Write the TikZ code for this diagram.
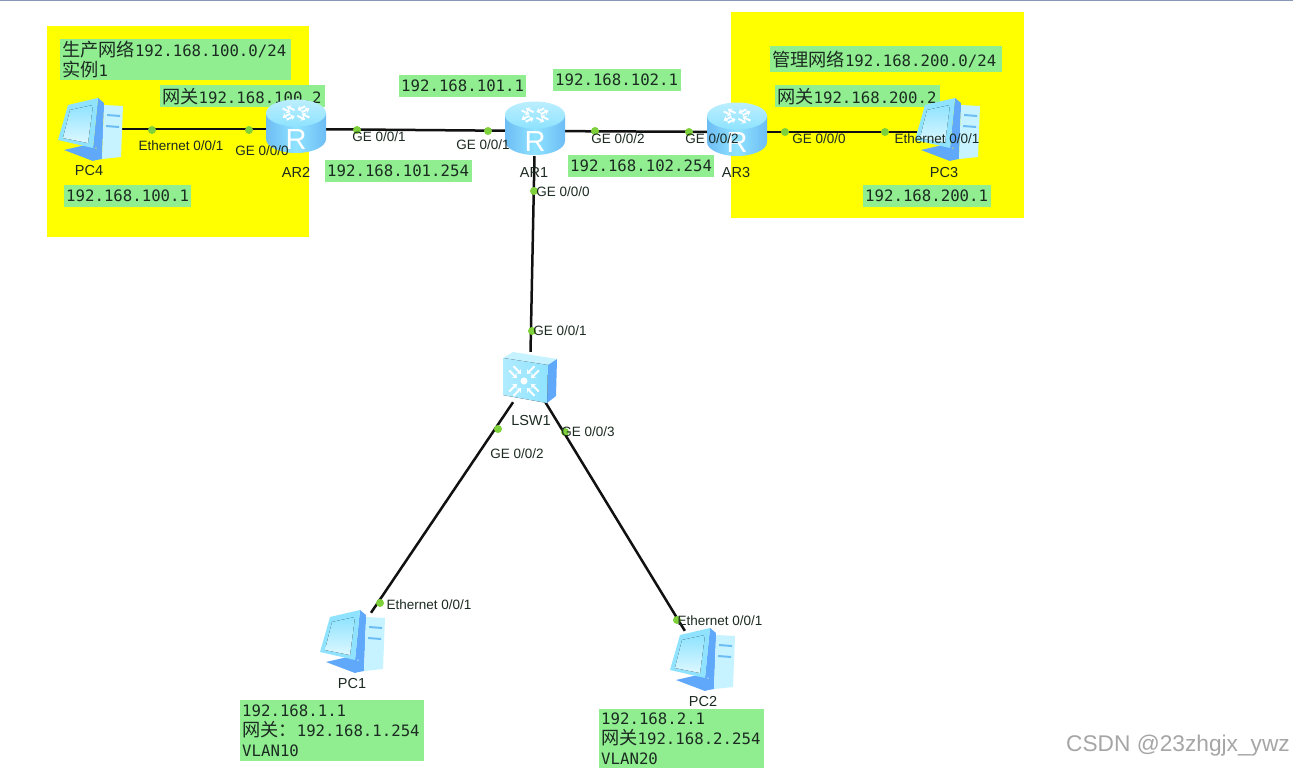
\documentclass[tikz,border=0pt]{standalone}
\usepackage{fontspec}
\usepackage{xcolor}
\usepackage{tikz}
\usetikzlibrary{arrows.meta}
\setmainfont{Liberation Sans}
\newfontfamily\zhfont{Noto Sans CJK SC}
\newfontfamily\ipfont{DejaVu Sans Mono}
\newcommand{\zh}[1]{{\zhfont\fontsize{18.2}{20}\selectfont #1}}
\definecolor{netYellow}{HTML}{FFFF00}
\definecolor{netGreen}{HTML}{90EE90}
\definecolor{netDot}{HTML}{7FD13B}
\definecolor{netLine}{HTML}{111111}
\definecolor{netInk}{HTML}{1C2B22}
\definecolor{netTop}{HTML}{8898B8}
\definecolor{iconPale}{HTML}{C6F3FF}
\definecolor{iconSky}{HTML}{8FE3FF}
\definecolor{iconMid}{HTML}{6DBDF5}
\definecolor{iconDeep}{HTML}{5FA8FA}
\tikzset{
  zonebox/.style={fill=netYellow,draw=none},
  iplabel/.style args={#1 by #2}{fill=netGreen,anchor=north west,align=left,
                  text width=#1pt,minimum height=#2pt,inner xsep=2pt,
                  inner ysep=0pt,text=netInk,
                  font=\ipfont\fontsize{15.7}{20}\selectfont},
  routerbox/.style={minimum width=58pt,minimum height=50pt,inner sep=0pt},
  pcbox/.style={minimum width=60pt,minimum height=56pt,inner sep=0pt},
  switchbox/.style={minimum width=52pt,minimum height=50pt,inner sep=0pt},
  netlink/.style={line width=2.5pt,netLine},
  portdot/.style={circle,fill=netDot,minimum size=8pt,inner sep=0pt},
  portlabel/.style={font=\fontsize{13.5}{15}\selectfont,text=netInk,inner sep=0pt},
  devlabel/.style={font=\fontsize{14.5}{16}\selectfont,text=netInk,inner sep=0pt},
  iconarrow/.style={white,line width=1.8pt,-{Stealth[length=4pt,width=6pt]}},
  pics/routericon/.style={code={
    \path[left color=iconMid,right color=iconMid,middle color=iconSky]
      (-30,-16) -- (-30,10) arc[start angle=180,end angle=0,x radius=30,y radius=14]
      -- (30,-16) -- cycle;
    \path[top color=iconSky!60!white,bottom color=iconSky]
      (0,-16) ellipse[x radius=30,y radius=13.5];
    \foreach \ang in {45,135,225,315}{
      \draw[iconarrow,shift={(0,-16)},yscale=0.5,rotate=\ang] (5,3) -- (16,3);
      \draw[iconarrow,shift={(0,-16)},yscale=0.5,rotate=\ang] (16,-3) -- (5,-3);
    }
    \node[text=white,inner sep=0pt,font=\fontsize{29}{30}\selectfont] (-letter) at (0,11) {R};
  }},
  pics/pcicon/.style={code={
    \fill[iconDeep] (-26,21) -- (0,15) -- (16,28) -- (3,32) -- cycle;
    \fill[iconDeep] (8,-24) -- (14,-24) -- (12,30) -- (6,31) -- cycle;
    \fill[iconPale] (14,-24) -- (33,-23) -- (31,28) -- (12,30) -- cycle;
    \fill[iconMid] (17,-15) -- (30,-14) -- (30,-12) -- (17,-13) -- cycle;
    \fill[iconMid] (16,-4) -- (29,-3) -- (29,-1) -- (16,-2) -- cycle;
    \fill[iconDeep] (8,-31) -- (14,-26) -- (11,18) -- (3,19) -- cycle;
    \fill[iconSky] (-32,11) -- (-22,-24) -- (8,-31) -- (3,19) -- cycle;
    \fill[top color=iconSky,bottom color=iconPale!60!white]
      (-27,9) -- (-20,-19) -- (3,-24) -- (-2,14) -- cycle;
  }},
  pics/switchicon/.style={code={
    \fill[iconPale] (-27,-19) -- (-17,-25) -- (27,-18) -- (18,-12) -- cycle;
    \fill[iconDeep] (18,-12) -- (27,-18) -- (26,19) -- (17,26) -- cycle;
    \fill[left color=iconSky!70!white,right color=iconSky] (-27,-19) -- (18,-12) -- (17,26) -- (-27,18) -- cycle;
    \fill[white] (-6,4) circle[radius=3.5];
    \foreach \ang in {45,135,225,315}{
      \draw[iconarrow,shift={(-6,4)},rotate=\ang] (18,3) -- (7,3);
      \draw[iconarrow,shift={(-6,4)},rotate=\ang] (18,-3) -- (7,-3);
    }
  }}
}
\begin{document}
\begin{tikzpicture}[x=1pt,y=-1pt]
  \useasboundingbox (0,0) rectangle (1293,768);
  \fill[white] (0,0) rectangle (1293,768);
  \fill[netTop] (0,0) rectangle (1293,1.5);

  \fill[zonebox] (47,26) rectangle (309,237);
  \fill[zonebox] (731,12) rectangle (1024,218);

  \node[iplabel=227 by 41] (prodnet) at (60,39)
    {\zh{生产网络}192.168.100.0/24\\\zh{实例}1};
  \node[iplabel=161 by 22] (gwleft) at (160,85) {\zh{网关}192.168.100.2};
  \node[iplabel=123 by 22] (ip1011) at (399,75) {192.168.101.1};
  \node[iplabel=124 by 22] (ip1021) at (553,69) {192.168.102.1};
  \node[iplabel=143 by 22] (ip101g) at (325,160) {192.168.101.254};
  \node[iplabel=142 by 22] (ip102g) at (568,155) {192.168.102.254};
  \node[iplabel=123 by 22] (ippc4) at (64,185) {192.168.100.1};
  \node[iplabel=228 by 26] (mgmtnet) at (770,46) {\zh{管理网络}192.168.200.0/24};
  \node[iplabel=161 by 22] (gwright) at (775,85) {\zh{网关}192.168.200.2};
  \node[iplabel=124 by 22] (ippc3) at (863,185) {192.168.200.1};
  \node[iplabel=180 by 61] (ippc1) at (240,700)
    {192.168.1.1\\\zh{网关：}192.168.1.254\\VLAN10};
  \node[iplabel=161 by 59] (ippc2) at (599,709)
    {192.168.2.1\\\zh{网关}192.168.2.254\\VLAN20};

  \node[pcbox] (pc4) at (90,129) {};
  \node[routerbox] (ar2) at (296,129) {};
  \node[routerbox] (ar1) at (535,131) {};
  \node[routerbox] (ar3) at (737,132) {};
  \node[pcbox] (pc3) at (947,132) {};
  \node[switchbox] (lsw1) at (530,377) {};
  \node[pcbox] (pc1) at (352,641) {};
  \node[pcbox] (pc2) at (702,659) {};

  \draw[netlink] (pc4) -- (ar2);
  \draw[netlink] (ar2) -- (ar1);
  \draw[netlink] (ar1) -- (ar3);
  \draw[netlink] (ar3) -- (pc3);
  \draw[netlink] (ar1) -- (lsw1);
  \draw[netlink] (lsw1) -- (pc1);
  \draw[netlink] (lsw1) -- (pc2);

  \pic (ar2icon) at (ar2) {routericon};
  \pic (ar1icon) at (ar1) {routericon};
  \pic (ar3icon) at (ar3) {routericon};
  \pic at (pc4) {pcicon};
  \pic[yshift=3pt] at (pc3) {pcicon};
  \pic at (pc1) {pcicon};
  \pic at (pc2) {pcicon};
  \pic at (lsw1) {switchicon};

  \node[portdot] (d1) at (152,130) {};
  \node[portdot] (d2) at (249,130) {};
  \node[portdot] (d3) at (357,130) {};
  \node[portdot] (d4) at (488,131) {};
  \node[portdot] (d5) at (595,131) {};
  \node[portdot] (d6) at (689,132) {};
  \node[portdot] (d7) at (785,132) {};
  \node[portdot] (d8) at (885,132) {};
  \node[portdot] (d9) at (534,191) {};
  \node[portdot] (d10) at (532,331) {};
  \node[portdot] (d11) at (498,429) {};
  \node[portdot] (d12) at (565,432) {};
  \node[portdot] (d13) at (380,603) {};
  \node[portdot] (d14) at (677,620) {};

  \node[portlabel] (p1) at (181,146) {Ethernet 0/0/1};
  \node[portlabel] (p2) at (262,151) {GE 0/0/0};
  \node[portlabel] (p3) at (379,137) {GE 0/0/1};
  \node[portlabel] (p4) at (483,145) {GE 0/0/1};
  \node[portlabel] (p5) at (618,139) {GE 0/0/2};
  \node[portlabel] (p6) at (712,139) {GE 0/0/2};
  \node[portlabel] (p7) at (819,139) {GE 0/0/0};
  \node[portlabel] (p8) at (937,139) {Ethernet 0/0/1};
  \node[portlabel] (p9) at (563,192) {GE 0/0/0};
  \node[portlabel] (p10) at (560,331) {GE 0/0/1};
  \node[portlabel] (p11) at (517,454) {GE 0/0/2};
  \node[portlabel] (p12) at (588,432) {GE 0/0/3};
  \node[portlabel] (p13) at (429,605) {Ethernet 0/0/1};
  \node[portlabel] (p14) at (720,621) {Ethernet 0/0/1};

  \node[devlabel] (pc4name) at (89,171) {PC4};
  \node[devlabel] (ar2name) at (296,172) {AR2};
  \node[devlabel] (ar1name) at (534,173) {AR1};
  \node[devlabel] (ar3name) at (736,173) {AR3};
  \node[devlabel] (pc3name) at (944,173) {PC3};
  \node[devlabel] (lsw1name) at (531,421) {LSW1};
  \node[devlabel] (pc1name) at (352,684) {PC1};
  \node[devlabel] (pc2name) at (703,702) {PC2};

  \node[text=black!35,inner sep=0pt,anchor=east,font=\fontsize{22.7}{24}\selectfont]
    (mark) at (1290,746) {CSDN @23zhgjx\_ywz};
\end{tikzpicture}
\end{document}
